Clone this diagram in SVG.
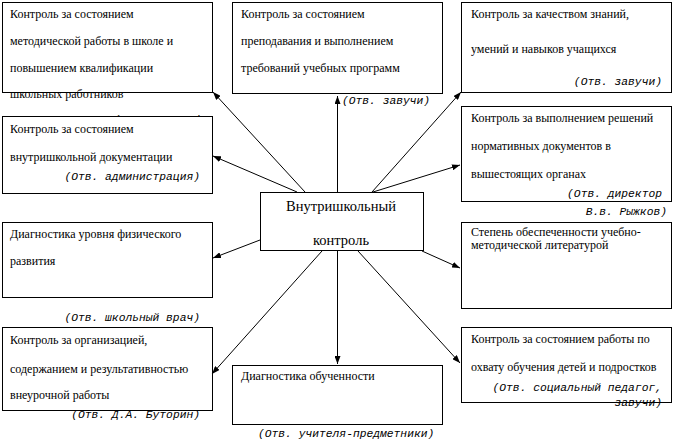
<svg xmlns="http://www.w3.org/2000/svg" width="674" height="441" viewBox="0 0 674 441">
<defs>
<marker id="ah" viewBox="0 0 8 6" refX="8" refY="3" markerWidth="8" markerHeight="6" markerUnits="userSpaceOnUse" orient="auto">
<path d="M0,0 L8,3 L0,6 z" fill="#000"/>
</marker>
<style>
.box{fill:#fff;stroke:#000;stroke-width:1}
.t{font-family:"Liberation Serif","Times New Roman",serif;font-size:12px;fill:#000}
.c{font-family:"Liberation Serif","Times New Roman",serif;font-size:14.5px;fill:#000;text-anchor:middle}
.r{font-family:"Liberation Mono","Courier New",monospace;font-size:11.3px;font-style:italic;fill:#000}
.e{text-anchor:end}
.con line{stroke:#000;stroke-width:1;marker-end:url(#ah)}
</style>
</defs>
<rect width="674" height="441" fill="#fff"/>
<g id="n1">
<rect class="box" x="2.5" y="2.5" width="210" height="90"/>
<text class="t" x="10" y="18">Контроль за состоянием</text>
<text class="t" x="10" y="45">методической работы в школе и</text>
<text class="t" x="10" y="72">повышением квалификации</text>
<text class="t" x="10" y="98">школьных работников</text>
<text class="r e" x="202" y="123">(Отв. Завучи)</text>
</g>
<g id="n2">
<rect class="box" x="2.5" y="116.5" width="210" height="77"/>
<text class="t" x="10" y="133">Контроль за состоянием</text>
<text class="t" x="10" y="161">внутришкольной документации</text>
<text class="r e" x="200" y="180">(Отв. администрация)</text>
</g>
<g id="n3">
<rect class="box" x="232.5" y="2.5" width="210" height="91"/>
<text class="t" x="241" y="18">Контроль за состоянием</text>
<text class="t" x="241" y="45">преподавания и выполнением</text>
<text class="t" x="241" y="72">требований учебных программ</text>
<text class="r" x="342" y="104">(Отв. завучи)</text>
</g>
<g id="n4">
<rect class="box" x="461.5" y="2.5" width="210" height="90"/>
<text class="t" x="471" y="18">Контроль за качеством знаний,</text>
<text class="t" x="471" y="53">умений и навыков учащихся</text>
<text class="r e" x="662" y="85">(Отв. завучи)</text>
</g>
<g id="n5">
<rect class="box" x="461.5" y="106.5" width="210" height="95"/>
<text class="t" x="471" y="122">Контроль за выполнением решений</text>
<text class="t" x="471" y="150">нормативных документов в</text>
<text class="t" x="471" y="178">вышестоящих органах</text>
<text class="r e" x="662" y="197">(Отв. директор</text>
<text class="r e" x="667" y="215">В.в. Рыжков)</text>
</g>
<g id="center">
<rect class="box" x="260.5" y="192.5" width="163" height="58"/>
<text class="c" x="341" y="211">Внутришкольный</text>
<text class="c" x="341" y="245">контроль</text>
</g>
<g id="n6">
<rect class="box" x="2.5" y="222.5" width="210" height="75"/>
<text class="t" x="10" y="238">Диагностика уровня физического</text>
<text class="t" x="10" y="265">развития</text>
<text class="r e" x="200" y="321">(Отв. школьный врач)</text>
</g>
<g id="n7">
<rect class="box" x="2.5" y="327.5" width="210" height="83"/>
<text class="t" x="10" y="344">Контроль за организацией,</text>
<text class="t" x="10" y="373">содержанием и результативностью</text>
<text class="t" x="10" y="399">внеурочной работы</text>
<text class="r e" x="200" y="418">(Отв. Д.А. Буторин)</text>
</g>
<g id="n8">
<rect class="box" x="232.5" y="365.5" width="210" height="59"/>
<text class="t" x="241" y="380">Диагностика обученности</text>
<text class="r" x="258" y="437">(Отв. учителя-предметники)</text>
</g>
<g id="n9">
<rect class="box" x="461.5" y="222.5" width="210" height="86"/>
<text class="t" x="471" y="236">Степень обеспеченности учебно-</text>
<text class="t" x="471" y="249">методической литературой</text>
</g>
<g id="n10">
<rect class="box" x="461.5" y="327.5" width="210" height="75"/>
<text class="t" x="471" y="343">Контроль за состоянием работы по</text>
<text class="t" x="471" y="371">охвату обучения детей и подростков</text>
<text class="r e" x="662" y="391">(Отв. социальный педагог,</text>
<text class="r e" x="662" y="406">завучи)</text>
</g>
<g id="connectors" class="con">
<line x1="305" y1="192" x2="213" y2="92"/>
<line x1="297" y1="192" x2="213" y2="156"/>
<line x1="337.5" y1="192" x2="337.5" y2="96"/>
<line x1="372" y1="192" x2="461" y2="92"/>
<line x1="373" y1="192" x2="460" y2="165"/>
<line x1="260" y1="240" x2="213" y2="258"/>
<line x1="322" y1="251" x2="212" y2="374"/>
<line x1="337.5" y1="251" x2="337.5" y2="364"/>
<line x1="358" y1="251" x2="460" y2="363"/>
<line x1="422" y1="251" x2="460" y2="268"/>
</g>
</svg>
